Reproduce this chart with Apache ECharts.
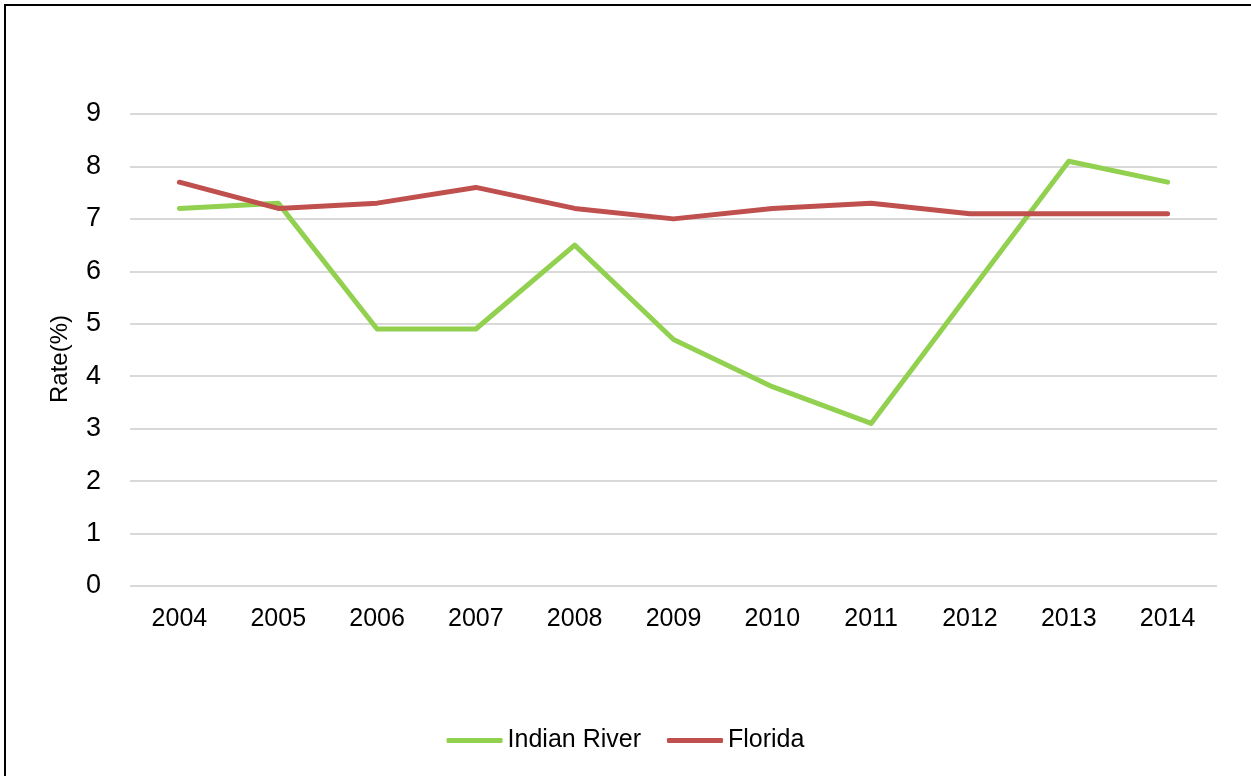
<!DOCTYPE html>
<html>
<head>
<meta charset="utf-8">
<script src="https://cdn.jsdelivr.net/npm/echarts@6/dist/echarts.min.js"></script>
<style>
html,body{margin:0;padding:0;background:#fff;}
#chart{width:1251px;height:776px;}
</style>
</head>
<body>
<div id="chart"></div>
<script>
const years = ['2004','2005','2006','2007','2008','2009','2010','2011','2012','2013','2014'];
const indianRiver = [7.2, 7.3, 4.9, 4.9, 6.5, 4.7, 3.8, 3.1, 5.6, 8.1, 7.7];
const florida = [7.7, 7.2, 7.3, 7.6, 7.2, 7.0, 7.2, 7.3, 7.1, 7.1, 7.1];
const FONT = "'Liberation Sans Narrow', 'Arial Narrow', 'Liberation Sans', sans-serif";

const chart = echarts.init(document.getElementById('chart'));
chart.setOption({
  animation: false,
  backgroundColor: '#fff',
  graphic: [{
    type: 'rect',
    shape: { x: 5, y: 5, width: 1300, height: 900 },
    style: { fill: 'none', stroke: '#000', lineWidth: 2 },
    silent: true
  }],
  grid: { left: 130, right: 34, top: 114, bottom: 190 },
  legend: {
    bottom: 18,
    left: 'center',
    itemWidth: 56,
    itemHeight: 5,
    itemGap: 26,
    icon: 'roundRect',
    textStyle: { fontFamily: FONT, fontSize: 25, color: '#000' },
    data: ['Indian River', 'Florida']
  },
  xAxis: {
    type: 'category',
    data: years,
    boundaryGap: true,
    axisLine: { show: false },
    axisTick: { show: false },
    axisLabel: { fontFamily: FONT, fontSize: 25, color: '#000', margin: 21 }
  },
  yAxis: {
    type: 'value',
    min: 0, max: 9, interval: 1,
    name: 'Rate(%)',
    nameLocation: 'middle',
    nameRotate: 90,
    nameGap: 58,
    nameTextStyle: { fontFamily: FONT, fontSize: 24, color: '#000', padding: [0, 18, 0, 0] },
    axisLine: { show: false },
    axisTick: { show: false },
    axisLabel: { fontFamily: FONT, fontSize: 27, color: '#000', margin: 29, padding: [7, 0, 0, 0] },
    splitLine: { lineStyle: { color: '#d9d9d9', width: 2 } }
  },
  series: [
    {
      name: 'Indian River', type: 'line', data: indianRiver,
      symbol: 'none', color: '#92D050',
      lineStyle: { width: 5, color: '#92D050', cap: 'round', join: 'round' }
    },
    {
      name: 'Florida', type: 'line', data: florida,
      symbol: 'none', color: '#C0504D',
      lineStyle: { width: 5, color: '#C0504D', cap: 'round', join: 'round' }
    }
  ]
});
</script>
</body>
</html>
